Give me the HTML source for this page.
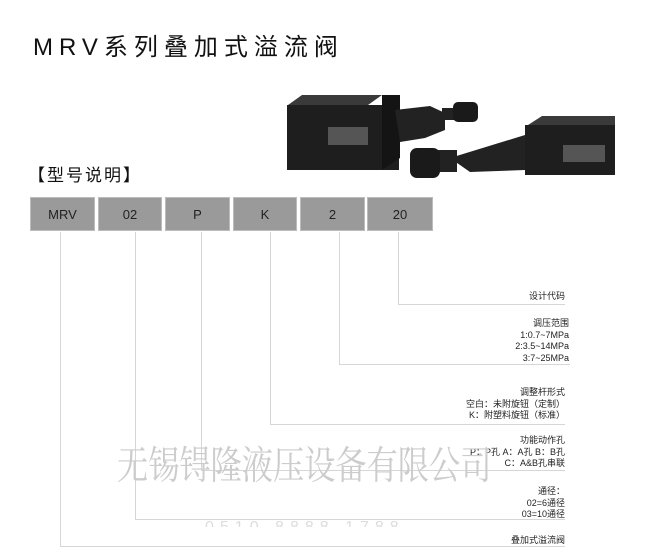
<!DOCTYPE html>
<html><head><meta charset="utf-8"><style>
body{margin:0;width:659px;height:558px;background:#fff;position:relative;overflow:hidden;font-family:"Liberation Sans","Noto Sans CJK SC",sans-serif;}
.a{position:absolute;}
.box{position:absolute;top:197px;height:34px;background:#9a9a9a;border:1px solid #bcbcbc;box-sizing:border-box;font-size:13px;color:#222;text-align:center;line-height:33px;}
.v{position:absolute;width:1px;background:#d6d6d6;top:232px;}
.h{position:absolute;height:1px;background:#d6d6d6;}
.t{position:absolute;right:94px;font-size:9px;line-height:11.5px;text-align:right;color:#222;white-space:nowrap;}
</style></head><body>
<div class="a" style="left:33px;top:27px;font-size:24px;letter-spacing:6px;color:#111;">MRV系列叠加式溢流阀</div>
<div class="a" style="left:28px;top:161px;font-size:17px;letter-spacing:2px;color:#111;">【型号说明】</div>

<svg class="a" style="left:270px;top:80px" width="380" height="110">
<polygon points="18,25 32,15 112,15 98,25" fill="#3a3a3a"/>
<rect x="17" y="25" width="112" height="65" fill="#1e1e1e"/>
<polygon points="112,15 130,15 130,78 112,90" fill="#141414"/>
<polygon points="125,30 160,26 175,33 175,50 155,58 130,62" fill="#222"/>
<rect x="172" y="28" width="12" height="12" fill="#222"/>
<rect x="183" y="22" width="25" height="20" rx="5" fill="#1a1a1a"/>
<rect x="58" y="47" width="40" height="18" fill="#555"/>
<polygon points="258,45 272,36 345,36 345,45" fill="#3a3a3a"/>
<rect x="255" y="45" width="90" height="50" fill="#1e1e1e"/>
<polygon points="180,78 255,55 255,90 200,92" fill="#222"/>
<rect x="165" y="70" width="22" height="22" fill="#222"/>
<rect x="140" y="68" width="30" height="30" rx="7" fill="#1a1a1a"/>
<rect x="293" y="65" width="42" height="17" fill="#555"/>
</svg>

<div class="box" style="left:30px;width:65px;">MRV</div>
<div class="box" style="left:98px;width:64px;">02</div>
<div class="box" style="left:165px;width:65px;">P</div>
<div class="box" style="left:233px;width:64px;">K</div>
<div class="box" style="left:300px;width:65px;">2</div>
<div class="box" style="left:367px;width:66px;">20</div>

<div class="v" style="left:398px;height:73px;"></div><div class="h" style="left:398px;top:304px;width:167px;"></div>
<div class="v" style="left:339px;height:132px;"></div><div class="h" style="left:339px;top:364px;width:231px;"></div>
<div class="v" style="left:270px;height:192px;"></div><div class="h" style="left:270px;top:424px;width:295px;"></div>
<div class="v" style="left:201px;height:239px;"></div><div class="h" style="left:201px;top:470px;width:364px;"></div>
<div class="v" style="left:135px;height:287px;"></div><div class="h" style="left:135px;top:519px;width:430px;"></div>
<div class="v" style="left:60px;height:314px;"></div><div class="h" style="left:60px;top:546px;width:505px;"></div>

<div class="t" style="top:291px;">设计代码</div>
<div class="t" style="top:318px;right:90px;">调压范围<br>1:0.7~7MPa<br>2:3.5~14MPa<br>3:7~25MPa</div>
<div class="t" style="top:387px;">调整杆形式<br>空白：未附旋钮（定制）<br>K：附塑料旋钮（标准）</div>
<div class="t" style="top:435px;">功能动作孔<br>P：P孔 A：A孔 B：B孔<br>C：A&amp;B孔串联</div>
<div class="t" style="top:486px;">通径：<br>02=6通径<br>03=10通径</div>
<div class="t" style="top:535px;">叠加式溢流阀</div>

<div class="a" style="left:117px;top:438px;font-size:39px;line-height:50px;color:#cccccc;font-family:'Noto Serif CJK SC',serif;transform:scaleX(0.8);transform-origin:0 0;white-space:nowrap;">无锡锝隆液压设备有限公司</div>
<div class="a" style="left:205px;top:520px;font-size:16px;line-height:16px;height:7px;overflow:hidden;color:#ddd;letter-spacing:6px;">0510 8888 1788</div>
</body></html>
